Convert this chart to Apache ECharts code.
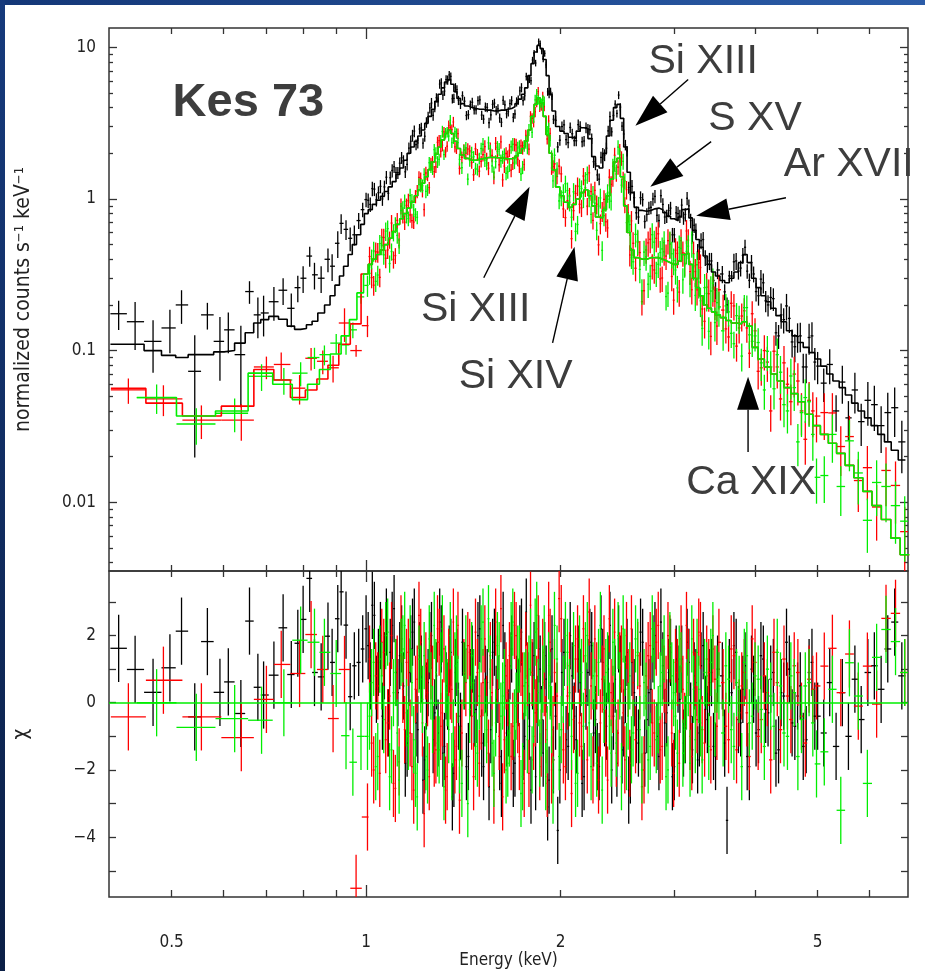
<!DOCTYPE html>
<html><head><meta charset="utf-8">
<script src="https://cdn.jsdelivr.net/npm/echarts@6/dist/echarts.min.js"></script>
<style>
html,body{margin:0;padding:0;background:#fff;}
#wrap{position:relative;width:925px;height:971px;overflow:hidden;background:#fff;}
#chart{position:absolute;left:0;top:0;width:925px;height:971px;}
#bandTop{position:absolute;left:0;top:0;width:925px;height:5px;background:linear-gradient(90deg,#143777,#2b5ca8);z-index:2}
#bandLeft{position:absolute;left:0;top:0;width:5px;height:971px;background:linear-gradient(180deg,#163a7c,#0b1f46);z-index:2}
</style></head>
<body><div id="wrap"><div id="chart"></div><div id="bandTop"></div><div id="bandLeft"></div></div>
<script>
// ---------- axis ranges & tick values ----------
const X_MIN = 0.4, X_MAX = 6.9;
const Y_MIN = 0.00352, Y_MAX = 13.4;
const CHI_MIN = -5.78, CHI_MAX = 3.92;
const xTickValues = [0.5,0.6,0.7,0.8,0.9,2,3,4,5,6];
const xDecadeTicks = [1];
const xLabelValues = [0.5,1,2,5];
const yMajorValues = [0.01,0.1,1,10];
const yMinorValues = [0.004,0.005,0.006,0.007,0.008,0.009,0.02,0.03,0.04,0.05,0.06,0.07,0.08,0.09,
  0.2,0.3,0.4,0.5,0.6,0.7,0.8,0.9,2,3,4,5,6,7,8,9];
const chiTickValues = [-5,-4,-3,-2,-1,0,1,2,3];
const chiLabelValues = [-4,-2,0,2];

// ---------- black spectrum (pn) ----------
const blackLowE = [0.414,0.439,0.468,0.497,0.518,0.543,0.568,0.594,0.612,0.640,0.660,0.680,0.694,0.720,0.744,0.766,0.784,0.799,0.818,0.832,0.852,0.873,0.886,0.904,0.915,0.931,0.945,0.959,0.974,0.988];
const blackLowRate = [0.175,0.155,0.115,0.141,0.20,0.073,0.172,0.115,0.137,0.094,0.245,0.172,0.177,0.21,0.25,0.19,0.26,0.30,0.42,0.316,0.30,0.40,0.36,0.51,0.69,0.63,0.55,0.58,0.72,0.85];
const blackLowErr = [0.22,0.35,0.38,0.32,0.25,0.73,0.2,0.45,0.3,0.55,0.17,0.3,0.3,0.25,0.2,0.25,0.2,0.2,0.15,0.2,0.2,0.18,0.2,0.2,0.15,0.15,0.18,0.15,0.12,0.11];
const blackLowModel = [0.11,0.11,0.10,0.093,0.09,0.094,0.094,0.098,0.10,0.112,0.131,0.152,0.16,0.168,0.161,0.145,0.138,0.14,0.148,0.156,0.177,0.2,0.23,0.27,0.31,0.36,0.43,0.5,0.58,0.68];
const blackLowChi = [1.62,0.99,0.31,1.04,2.13,-0.42,1.82,0.31,0.62,-0.32,2.43,0.46,0.23,0.82,2.23,0.84,1.77,2.48,3.7,0.9,0.77,1.98,1.2,2.5,3.3,2.31,0.18,1.1,1.2,1.6];

// dense channel grid 1.0-3.5 keV (pn), and the channels lying between them
const denseE = [1.00,1.015,1.03,1.045,1.06,1.075,1.09,1.105,1.12,1.135,
 1.15,1.165,1.18,1.195,1.21,1.225,1.24,1.255,1.27,1.285,
 1.30,1.315,1.33,1.345,1.36,1.375,1.39,1.41,1.43,1.45,
 1.47,1.49,1.51,1.53,1.55,1.57,1.59,1.61,1.63,1.65,
 1.67,1.69,1.71,1.73,1.75,1.77,1.79,1.81,1.83,1.85,
 1.87,1.89,1.91,1.93,1.95,1.98,2.01,2.04,2.07,2.10,
 2.13,2.16,2.19,2.22,2.25,2.28,2.31,2.34,2.37,2.40,
 2.43,2.46,2.49,2.52,2.55,2.58,2.62,2.66,2.70,2.74,
 2.78,2.82,2.86,2.90,2.94,2.98,3.02,3.06,3.10,3.14,
 3.18,3.22,3.26,3.30,3.35,3.40,3.45,3.50];
const midE = [1.0075,1.0225,1.0375,1.0525,1.0675,1.0825,1.0975,1.1125,1.1275,
 1.1425,1.1575,1.1725,1.1875,1.2025,1.2175,1.2325,1.2475,1.2625,1.2775,
 1.2925,1.3075,1.3225,1.3375,1.3525,1.3675,1.3825,1.40,1.42,1.44,
 1.46,1.48,1.50,1.52,1.54,1.56,1.58,1.60,1.62,1.64,
 1.66,1.68,1.70,1.72,1.74,1.76,1.78,1.80,1.82,1.84,
 1.86,1.88,1.90,1.92,1.94,1.965,1.995,2.025,2.055,2.085,
 2.115,2.145,2.175,2.205,2.235,2.265,2.295,2.325,2.355,2.385,
 2.415,2.445,2.475,2.505,2.535,2.565,2.60,2.64,2.68,2.72,
 2.76,2.80,2.84,2.88,2.92,2.96,3.00,3.04,3.08,3.12,
 3.16,3.20,3.24,3.28,3.325,3.375,3.425,3.475];

const blackDenseRate = [0.99,0.92,1.16,1.10,1.00,1.39,1.38,1.63,1.49,1.87,
 1.51,2.16,2.62,2.28,2.89,2.33,3.20,3.98,3.56,4.65,
 5.72,4.83,6.11,6.58,4.58,5.42,4.47,4.79,3.55,4.17,
 3.87,4.45,3.57,4.04,3.18,4.20,3.83,3.42,4.47,3.65,
 4.25,3.45,4.37,5.16,4.45,6.42,6.18,8.24,7.87,10.9,
 9.46,9.11,5.09,5.11,3.35,2.20,3.00,2.46,2.96,2.42,
 3.09,2.38,2.95,2.86,1.76,1.44,1.88,1.95,2.81,2.77,
 4.22,4.84,3.02,2.27,1.19,1.21,0.81,1.02,0.71,0.87,
 1.00,0.78,1.05,0.76,0.84,0.58,0.81,0.77,0.75,1.01,
 0.72,0.67,0.45,0.53,0.41,0.39,0.29,0.34];
const blackMidRate = [0.98,1.17,0.99,1.21,1.20,1.09,1.54,1.49,1.72,
 1.78,1.69,2.40,2.80,2.34,2.94,2.59,3.48,4.29,4.05,
 4.36,5.83,5.14,6.08,6.43,4.61,5.26,4.21,4.41,3.60,
 4.34,3.87,4.50,3.36,4.01,3.58,4.28,3.93,3.20,4.17,
 3.76,4.45,3.63,4.49,5.42,4.79,6.13,6.03,9.15,9.70,
 10.55,8.37,7.66,4.91,4.77,3.30,2.44,3.08,2.35,2.69,
 2.42,3.01,2.41,2.89,2.50,1.70,1.35,1.99,2.16,3.49,
 3.55,3.66,4.03,2.68,2.07,1.07,1.02,0.76,0.99,0.79,
 0.88,1.04,0.72,0.92,0.77,0.87,0.58,0.80,0.91,0.79,
 0.90,0.58,0.62,0.45,0.54,0.37,0.39,0.25];
const blackDenseModel = [0.80,0.85,0.92,0.98,1.04,1.12,1.20,1.30,1.45,1.60,
 1.80,2.00,2.20,2.40,2.60,2.85,3.15,3.50,3.90,4.40,
 4.90,5.40,5.90,6.10,5.70,5.10,4.60,4.25,4.10,4.00,
 3.95,3.90,3.90,3.85,3.85,3.80,3.80,3.85,3.85,3.90,
 3.95,4.05,4.25,4.55,4.90,5.40,6.50,7.80,9.30,10.3,
 9.80,8.30,6.50,4.90,3.80,3.00,2.80,2.70,2.55,2.50,
 2.80,2.95,2.90,2.50,1.90,1.65,1.60,2.00,2.60,3.30,
 4.00,4.20,3.40,2.20,1.50,1.10,0.88,0.84,0.83,0.84,
 0.86,0.87,0.85,0.81,0.77,0.74,0.72,0.76,0.85,0.86,
 0.75,0.62,0.54,0.48,0.42,0.37,0.33,0.31];
const blackDenseErr = [0.11,0.11,0.10,0.10,0.10,0.10,0.10,0.09,0.09,0.09,
 0.09,0.09,0.09,0.08,0.08,0.08,0.08,0.08,0.08,0.07,
 0.07,0.07,0.07,0.06,0.07,0.07,0.07,0.07,0.07,0.07,
 0.07,0.07,0.07,0.07,0.08,0.07,0.07,0.07,0.07,0.07,
 0.07,0.07,0.07,0.07,0.07,0.06,0.06,0.05,0.05,0.05,
 0.05,0.05,0.06,0.06,0.07,0.08,0.08,0.08,0.08,0.08,
 0.08,0.08,0.08,0.08,0.09,0.09,0.09,0.09,0.08,0.07,
 0.06,0.06,0.07,0.08,0.09,0.10,0.10,0.10,0.10,0.10,
 0.10,0.10,0.10,0.10,0.10,0.11,0.11,0.10,0.10,0.10,
 0.11,0.11,0.12,0.12,0.12,0.13,0.13,0.13];
const blackDenseChi = [2.2,0.8,2.6,1.2,-0.4,2.4,1.5,2.8,0.3,1.9,
 -1.8,0.9,2.1,-0.6,1.4,-2.3,0.2,1.7,-1.1,0.8,
 2.4,-1.5,0.5,1.3,-2.8,0.9,-0.4,1.8,-1.9,0.6,
 -0.3,2.0,-1.2,0.7,-2.5,1.5,0.1,-1.6,2.3,-0.9,
 1.1,-2.1,0.4,1.9,-1.3,2.7,-0.7,0.8,-2.2,1.6,
 -0.5,1.4,-3.1,0.6,-1.7,-3.8,0.9,-1.1,2.0,-0.4,
 1.3,-2.4,0.2,1.8,-0.9,-1.6,2.2,-0.3,1.0,-2.0,
 0.7,1.9,-1.4,0.4,-2.6,1.2,-0.8,2.1,-1.5,0.3,
 1.6,-1.0,2.4,-0.6,0.9,-2.2,1.3,0.1,-1.2,1.8,
 -0.4,0.8,-1.7,1.1,-0.2,0.6,-1.3,1.0];
const blackMidChi = [1.7,2.9,0.4,2.0,1.1,-0.6,2.3,0.9,1.4,
 0.5,-1.2,1.6,2.4,-0.8,1.0,-1.7,0.6,2.0,-0.3,
 -0.9,1.9,-1.3,0.2,1.5,-2.1,1.2,-0.7,0.8,-1.6,
 1.3,-0.2,2.2,-1.9,0.6,-0.8,1.8,0.4,-2.4,1.1,
 -0.6,1.6,-1.8,0.3,2.1,-1.0,0.5,-2.6,1.4,-0.2,
 1.0,-1.5,0.7,-2.3,1.6,-0.4,-2.0,1.5,-1.3,0.8,
 -1.1,0.6,-2.2,0.9,1.7,-0.5,-1.9,1.2,-0.7,2.3,
 -0.4,-1.8,1.0,-0.6,1.5,-2.0,0.3,-1.2,1.8,-0.5,
 0.4,2.0,-1.6,1.1,-0.3,1.5,-1.9,0.7,1.3,-0.8,
 1.2,-1.4,0.6,-0.9,1.7,-0.5,0.9,-1.6];

const blackHighE = [3.56,3.62,3.68,3.74,3.80,3.86,3.92,3.98,4.05,4.12,4.19,4.27,4.35,4.43,4.52,4.61,4.70,4.80,4.90,5.00,5.11,5.22,5.34,5.46,5.58,5.71,5.84,5.98,6.12,6.27,6.42,6.58,6.75];
const blackHighRate = [0.32,0.20,0.31,0.39,0.35,0.48,0.29,0.32,0.23,0.28,0.20,0.22,0.125,0.16,0.163,0.106,0.125,0.078,0.125,0.079,0.061,0.081,0.040,0.062,0.036,0.055,0.034,0.047,0.044,0.032,0.039,0.042,0.025];
const blackHighErr = [0.12,0.08,0.13,0.12,0.12,0.11,0.12,0.14,0.15,0.16,0.17,0.18,0.19,0.2,0.21,0.22,0.22,0.23,0.24,0.25,0.26,0.27,0.28,0.29,0.3,0.31,0.32,0.33,0.34,0.35,0.36,0.38,0.4];
const blackHighModel = [0.29,0.28,0.30,0.33,0.38,0.43,0.38,0.30,0.26,0.23,0.21,0.19,0.17,0.155,0.135,0.125,0.113,0.105,0.097,0.088,0.079,0.070,0.063,0.057,0.051,0.045,0.040,0.036,0.032,0.028,0.025,0.022,0.019];
const blackHighChi = [0.8,-3.5,0.3,1.5,-0.6,1.1,-1.9,0.4,-0.8,1.3,-0.3,0.9,-1.4,0.2,1.0,-0.7,0.5,-1.1,1.2,-0.4,-0.9,0.6,-1.3,0.3,-1.0,0.7,-0.5,0.9,1.1,0.4,1.6,2.4,0.8];
const blackHighMidE = [3.59,3.65,3.71,3.77,3.83,3.89,3.95,4.015,4.085,4.155,4.23,4.31,4.39,4.475,4.565,4.655,4.75,4.85,4.95];
const blackHighMidRate = [0.244,0.311,0.385,0.334,0.424,0.334,0.381,0.245,0.296,0.213,0.224,0.131,0.172,0.197,0.114,0.124,0.078,0.122,0.084];
const blackHighMidChi = [-1.2,0.9,1.7,-0.5,0.4,-1.6,1.0,-0.9,1.4,-0.2,0.7,-1.5,0.3,1.8,-0.6,0.2,-1.3,0.9,-0.4];

// ---------- MOS spectra (red, green) ----------
const redLowE = [0.4286,0.4856,0.556,0.641,0.701,0.739,0.789,0.822,0.857,0.889,0.926,0.965];
const redLowRate = [0.055,0.048,0.0348,0.0348,0.078,0.081,0.0565,0.089,0.085,0.077,0.152,0.10];
const redLowErr = [0.19,0.23,0.25,0.27,0.17,0.2,0.22,0.17,0.18,0.2,0.25,0.09];
const redLowModel = [0.0563,0.045,0.037,0.043,0.075,0.064,0.049,0.055,0.065,0.08,0.11,0.15];
const redLowChi = [-0.42,0.67,-0.42,-1.04,0.1,1.14,0.87,2.03,0.99,-0.47,0.99,-5.52];

const greenLowE = [0.474,0.546,0.626,0.689,0.746,0.792,0.832,0.862,0.899,0.931,0.954,0.982];
const greenLowRate = [0.049,0.0328,0.0386,0.0677,0.064,0.071,0.09,0.094,0.112,0.109,0.137,0.226];
const greenLowErr = [0.22,0.27,0.25,0.2,0.2,0.18,0.16,0.15,0.15,0.14,0.12,0.1];
const greenLowModel = [0.049,0.037,0.040,0.071,0.06,0.0475,0.06,0.075,0.095,0.125,0.16,0.24];
const greenLowChi = [0,-0.73,-0.47,-0.52,0,1.86,1.8,1.5,0.87,-0.98,-1.77,-1.0];

// MOS channel energies in the dense region
const mosDenseE = [1.005,1.02,1.035,1.05,1.065,1.08,1.095,1.11,1.125,1.14,
 1.155,1.17,1.185,1.20,1.215,1.23,1.245,1.26,1.275,1.29,
 1.305,1.32,1.335,1.35,1.365,1.38,1.395,1.417,1.437,1.457,
 1.477,1.497,1.517,1.537,1.557,1.577,1.597,1.617,1.637,1.657,
 1.677,1.697,1.717,1.737,1.757,1.777,1.797,1.817,1.837,1.857,
 1.877,1.897,1.917,1.937,1.957,1.99,2.02,2.05,2.08,2.11,
 2.14,2.17,2.20,2.23,2.26,2.29,2.32,2.35,2.38,2.41,
 2.44,2.47,2.50,2.53,2.56,2.59,2.633,2.673,2.713,2.753,
 2.793,2.833,2.873,2.913,2.953,2.993,3.033,3.073,3.113,3.153,
 3.193,3.233,3.273,3.313,3.367,3.417,3.467,3.517];
const mosMidE = [1.0125,1.0275,1.0425,1.0575,1.0725,1.0875,1.1025,1.1175,1.1325,
 1.1475,1.1625,1.1775,1.1925,1.2075,1.2225,1.2375,1.2525,1.2675,1.2825,
 1.2975,1.3125,1.3275,1.3425,1.3575,1.3725,1.3875,1.407,1.427,1.447,
 1.467,1.487,1.507,1.527,1.547,1.567,1.587,1.607,1.627,1.647,
 1.667,1.687,1.707,1.727,1.747,1.767,1.787,1.807,1.827,1.847,
 1.867,1.887,1.907,1.927,1.947,1.975,2.005,2.035,2.065,2.095,
 2.125,2.155,2.185,2.215,2.245,2.275,2.305,2.335,2.365,2.395,
 2.425,2.455,2.485,2.515,2.545,2.575,2.613,2.653,2.693,2.733,
 2.773,2.813,2.853,2.893,2.933,2.973,3.013,3.053,3.093,3.133,
 3.173,3.213,3.253,3.293,3.342,3.392,3.442,3.492];

const mosDenseModel = [0.32,0.37,0.40,0.43,0.46,0.50,0.55,0.61,0.68,0.74,
 0.80,0.87,0.95,1.05,1.15,1.27,1.40,1.56,1.75,1.97,
 2.2,2.45,2.7,2.85,2.7,2.4,2.15,1.95,1.85,1.8,
 1.8,1.82,1.85,1.87,1.88,1.88,1.87,1.86,1.85,1.84,
 1.84,1.86,1.92,2.0,2.15,2.4,2.85,3.5,4.2,4.65,
 4.3,3.5,2.65,2.0,1.55,1.2,1.05,0.95,0.88,0.92,
 1.0,1.1,1.15,1.05,0.9,0.76,0.75,0.85,1.05,1.35,
 1.75,1.85,1.4,0.9,0.6,0.46,0.41,0.40,0.40,0.41,
 0.41,0.41,0.40,0.39,0.38,0.37,0.37,0.39,0.43,0.44,
 0.37,0.30,0.26,0.23,0.20,0.19,0.18,0.172];
const mosDenseErr = [0.16,0.15,0.15,0.14,0.14,0.13,0.13,0.12,0.12,0.11,
 0.11,0.11,0.10,0.10,0.10,0.10,0.09,0.09,0.09,0.09,
 0.09,0.08,0.08,0.08,0.08,0.08,0.09,0.09,0.09,0.09,
 0.09,0.09,0.10,0.10,0.10,0.10,0.10,0.10,0.10,0.10,
 0.10,0.10,0.10,0.10,0.09,0.09,0.08,0.08,0.07,0.07,
 0.07,0.08,0.09,0.10,0.11,0.12,0.13,0.13,0.14,0.14,
 0.13,0.13,0.13,0.13,0.14,0.15,0.15,0.14,0.13,0.12,
 0.11,0.11,0.12,0.14,0.16,0.18,0.19,0.19,0.19,0.19,
 0.19,0.19,0.19,0.19,0.2,0.2,0.2,0.19,0.18,0.18,
 0.2,0.21,0.22,0.23,0.24,0.25,0.25,0.26];
const redDenseRate = [0.146,0.303,0.448,0.304,0.557,0.461,0.693,0.423,0.536,0.773,
 0.906,0.784,0.703,1.124,1.357,0.851,1.438,1.714,1.514,2.36,
 2.061,2.764,2.225,2.964,3.218,2.15,1.589,2.108,2.133,1.735,
 2.14,1.525,1.961,1.833,2.143,1.391,2.057,2.381,1.647,1.895,
 1.546,2.288,1.824,2.24,1.686,2.573,3.511,3.22,4.318,4.032,
 4.752,3.276,3.27,1.6,1.703,1.646,0.859,0.975,0.547,1.087,
 0.922,1.415,0.896,1.118,1.139,0.498,0.829,0.707,1.391,1.366,
 1.461,2.074,1.35,1.152,0.427,0.51,0.519,0.21,0.461,0.542,
 0.34,0.589,0.301,0.42,0.502,0.215,0.437,0.531,0.376,0.535,
 0.252,0.332,0.38,0.188,0.262,0.124,0.212,0.252];
const redMidRate = [0.417,0.270,0.446,0.557,0.406,0.539,0.399,0.722,0.897,
 0.702,0.973,0.720,1.04,1.386,1.137,1.482,1.187,1.759,1.626,
 2.423,2.262,2.039,3.041,2.864,2.203,2.694,1.884,2.003,2.071,
 1.444,1.957,1.769,2.213,1.594,1.936,2.325,1.679,1.336,1.993,
 2.098,1.721,2.268,1.646,2.179,2.623,2.129,3.404,3.758,5.106,
 4.099,4.064,2.485,2.702,1.633,1.405,1.463,0.753,1.046,0.837,
 1.215,0.873,1.184,1.486,0.722,0.923,0.687,0.992,0.644,1.247,
 1.941,1.622,1.857,0.915,0.813,0.717,0.349,0.443,0.248,0.513,
 0.363,0.550,0.297,0.448,0.531,0.308,0.459,0.243,0.441,0.615,
 0.332,0.436,0.251,0.353,0.156,0.237,0.259,0.145];
const redDenseChi = [-3.4,-1.2,0.8,-2.1,1.5,-0.6,2.0,-2.55,-1.76,0.4,
 1.2,-0.9,-2.6,0.7,1.8,-3.3,0.3,1.1,-1.5,2.2,
 -0.7,1.6,-2.2,0.5,2.4,-1.3,-2.9,0.9,1.7,-0.4,
 2.1,-1.8,0.6,-0.2,1.4,-2.6,1.0,2.8,-1.1,0.3,
 -1.6,2.3,-0.5,1.2,-2.4,0.8,2.9,-1.0,0.4,-1.9,
 1.5,-0.8,2.6,-2.0,0.9,3.1,-1.4,0.2,-2.7,1.3,
 -0.6,2.2,-1.7,0.5,1.9,-2.3,0.7,-1.2,2.5,0.1,
 -1.5,1.1,-0.3,2.0,-1.8,0.6,1.4,-2.5,0.8,1.7,
 -0.9,2.3,-1.3,0.4,1.6,-2.1,0.9,1.9,-0.7,1.2,
 -1.6,0.5,2.1,-0.8,1.3,-1.4,0.7,1.8];
const redMidChi = [1.3,-2.0,0.5,1.8,-1.1,0.2,-2.4,1.0,2.2,
 -0.8,1.5,-1.9,0.4,2.6,-0.6,1.1,-2.2,0.7,-1.4,
 1.8,-0.3,-2.6,1.2,0.4,-1.7,2.3,-0.9,0.6,1.5,
 -2.2,0.9,-0.4,1.9,-1.5,0.3,2.4,-1.0,-2.8,0.8,
 1.4,-0.7,2.0,-1.6,0.5,1.7,-2.1,0.9,-0.3,2.2,
 -1.2,0.6,-2.4,1.8,-0.8,0.2,2.5,-1.9,1.1,-0.5,
 1.9,-1.3,0.4,2.7,-2.0,0.8,-0.6,1.6,-2.3,0.3,
 2.1,-0.9,1.3,-1.7,0.6,2.2,-1.1,0.5,-2.0,1.4,
 -0.6,1.8,-1.4,0.7,2.0,-0.9,1.2,-1.8,0.4,2.3,
 -1.0,1.5,-0.5,2.0,-1.2,0.9,1.6,-0.7];
const greenDenseRate = [0.269,0.403,0.286,0.508,0.428,0.637,0.45,0.676,0.492,0.87,
 0.774,1.052,0.846,0.756,1.231,1.448,1.148,1.63,2.112,1.757,
 2.418,1.96,2.765,3.306,2.506,2.707,1.821,2.09,1.351,2.027,
 1.589,1.853,2.294,1.72,2.068,1.485,2.188,1.786,1.961,1.509,
 2.208,1.748,2.17,1.46,2.247,2.162,3.26,3.444,4.964,4.162,
 4.511,2.884,2.912,1.9,1.942,0.97,1.105,1.135,0.757,0.611,
 1.208,1.0,1.449,0.791,0.938,0.897,0.458,0.957,0.995,1.642,
 1.519,1.952,1.77,0.698,0.677,0.385,0.527,0.248,0.415,0.309,
 0.519,0.371,0.468,0.227,0.509,0.392,0.259,0.472,0.368,0.488,
 0.511,0.231,0.283,0.14,0.238,0.247,0.153,0.194];
const greenMidRate = [0.323,0.454,0.315,0.495,0.614,0.375,0.603,0.575,0.838,
 0.965,0.743,0.970,0.79,1.243,1.222,1.121,1.733,1.581,2.011,
 1.822,2.785,2.719,2.597,2.353,2.774,2.348,1.607,2.174,1.792,
 1.897,1.566,2.149,1.804,2.344,1.654,1.763,2.126,1.892,1.476,
 1.674,2.294,1.871,2.215,1.619,2.398,2.861,2.743,4.497,4.518,
 4.287,4.419,2.804,2.43,1.314,1.572,1.017,1.26,0.951,1.114,
 0.678,1.173,1.33,1.014,1.076,0.621,1.015,0.776,1.096,0.966,
 1.717,2.196,1.232,1.316,0.708,0.411,0.584,0.343,0.446,0.274,
 0.581,0.324,0.443,0.515,0.239,0.435,0.340,0.479,0.293,0.451,
 0.274,0.362,0.368,0.213,0.260,0.134,0.278,0.207];
const greenDenseChi = [-1.0,0.6,-1.9,1.3,-0.5,2.1,-1.4,0.9,-2.3,1.6,
 -0.3,1.9,-1.1,-2.8,0.7,1.4,-2.0,0.5,2.3,-1.2,
 1.1,-2.5,0.3,2.0,-0.9,1.6,-1.7,0.8,-3.0,1.4,
 -1.3,0.2,2.4,-0.8,1.0,-2.1,1.7,-0.4,0.6,-1.8,
 2.0,-0.6,1.3,-2.7,0.5,-1.1,1.8,-0.2,2.6,-1.5,
 0.7,-2.2,1.1,-0.5,2.3,-1.6,0.4,1.5,-1.0,-2.4,
 1.6,-0.7,2.0,-1.9,0.3,1.2,-2.6,0.9,-0.4,1.8,
 -1.2,0.5,2.2,-1.6,0.8,-0.9,1.5,-2.0,0.2,-1.3,
 1.4,-0.5,0.9,-2.2,1.7,0.3,-1.5,1.1,-0.8,0.6,
 1.9,-1.1,0.4,-1.7,0.8,1.2,-0.6,0.5];
const greenMidChi = [-0.4,1.2,-1.6,0.8,2.0,-2.2,0.3,-0.9,1.5,
 2.3,-1.0,0.6,-2.1,1.3,0.1,-1.6,1.9,-0.5,0.9,
 -1.4,2.2,0.7,-0.8,-1.9,1.1,0.4,-2.4,1.6,-0.2,
 0.6,-1.5,1.9,-0.3,2.5,-1.2,-0.6,1.4,0.2,-2.0,
 -0.9,2.4,-0.1,1.3,-2.2,0.6,1.0,-1.7,2.1,0.3,
 -0.6,1.9,-1.1,0.5,-2.6,1.3,-0.8,2.0,0.3,1.7,
 -2.1,0.9,1.4,-0.6,0.8,-1.8,2.3,-0.2,1.1,-1.5,
 0.9,2.0,-2.2,1.2,-0.4,-1.4,1.9,-0.8,0.6,-1.7,
 2.2,-1.1,0.5,1.6,-2.0,0.8,-0.4,1.3,-1.5,0.2,
 -1.8,0.4,1.5,-0.6,0.9,-1.3,2.0,0.7];

const mosHighE = [3.57,3.64,3.71,3.78,3.85,3.92,4.00,4.09,4.18,4.28,4.38,4.49,4.60,4.72,4.85,4.98,5.12,5.27,5.43,5.60,5.78,5.97,6.17,6.38,6.60,6.82];
const mosHighModel = [0.165,0.158,0.152,0.15,0.155,0.145,0.105,0.088,0.078,0.07,0.063,0.057,0.052,0.046,0.038,0.032,0.028,0.0245,0.021,0.0175,0.0145,0.0118,0.0095,0.0077,0.0058,0.0045];
const mosHighErr = [0.2,0.2,0.21,0.21,0.2,0.21,0.24,0.26,0.27,0.28,0.29,0.3,0.31,0.32,0.33,0.34,0.35,0.36,0.37,0.38,0.39,0.4,0.42,0.44,0.46,0.48];
const redHighRate = [0.185,0.123,0.197,0.141,0.183,0.096,0.135,0.077,0.084,0.099,0.048,0.060,0.070,0.040,0.047,0.037,0.039,0.0388,0.0233,0.0271,0.0139,0.0169,0.0093,0.0162,0.0129,0.0064];
const redHighChi = [0.6,-1.1,1.4,-0.3,0.9,-1.6,1.2,-0.5,0.3,1.5,-0.8,0.2,1.1,-0.4,0.7,0.5,1.09,1.62,0.3,1.45,-0.1,1.09,-0.04,2.51,2.66,0.9];
const greenHighRate = [0.135,0.180,0.111,0.163,0.192,0.127,0.125,0.083,0.099,0.056,0.072,0.040,0.057,0.039,0.046,0.0146,0.0150,0.028,0.0127,0.0254,0.0156,0.0076,0.0135,0.0127,0.0095,0.0075];
const greenHighChi = [-0.9,0.7,-1.3,0.4,1.2,-0.6,0.8,-0.2,1.0,-0.7,0.5,-1.0,0.3,-0.5,0.6,-1.82,-1.46,0.4,-3.2,1.19,0.2,-2.4,1.35,2.18,1.82,0.9];
const mosHighMidE = [3.605,3.675,3.745,3.815,3.885,3.96,4.045,4.135,4.23,4.33,4.435,4.545,4.66,4.785,4.915];
const redHighMidRate = [0.139,0.205,0.107,0.169,0.141,0.175,0.073,0.100,0.040,0.078,0.083,0.046,0.063,0.026,0.040];
const redHighMidChi = [-0.7,1.6,-1.4,0.5,-0.3,1.9,-1.0,0.8,-1.7,0.6,1.3,-0.5,0.9,-1.2,0.4];
const greenHighMidRate = [0.197,0.130,0.170,0.092,0.192,0.115,0.113,0.055,0.078,0.094,0.044,0.068,0.025,0.049,0.028];
const greenHighMidChi = [1.1,-0.8,0.6,-1.9,1.4,-0.4,0.7,-1.3,0.2,1.5,-0.9,0.8,-1.6,0.5,-0.6];

// ---------- annotations (data coordinates) ----------
const titleText = 'Kes 73';
const titleE = 0.6574, titleF = 4.315;
const annotLabels = ['Si XIII','S XV','Ar XVII','Si XIII','Si XIV','Ca XIX'];
const annotTextE = [3.325,4.000,5.586,1.478,1.704,3.944];
const annotTextF = [8.05,3.384,1.681,0.1856,0.0671,0.01339];
const arrowTailE = [3.152,3.421,4.466,1.521,1.944,3.902];
const arrowTailF = [6.122,2.386,1.018,0.302,0.1124,0.02146];
const arrowTipE = [2.611,2.754,3.243,1.791,2.102,3.902];
const arrowTipF = [3.043,1.204,0.7747,1.204,0.4836,0.0671];

// ---------- build ----------
const BLACK = '#000000', RED = '#ff0000', GREEN = '#00ee00';
const COND = "'DejaVu Sans Condensed','Liberation Sans',sans-serif";
const SANS = "'Liberation Sans',Arial,sans-serif";
const L = Math.log10;

function interleave(a, b) {
  const out = [];
  for (let i = 0; i < a.length; i++) { out.push(a[i]); if (i < b.length) out.push(b[i]); }
  return out;
}
function edgesOf(E) {
  const n = E.length, lo = [], hi = [];
  for (let i = 0; i < n; i++) {
    lo.push(i > 0 ? Math.sqrt(E[i-1]*E[i]) : E[0]*E[0]/Math.sqrt(E[0]*E[1]));
    hi.push(i < n-1 ? Math.sqrt(E[i]*E[i+1]) : E[n-1]*E[n-1]/Math.sqrt(E[n-2]*E[n-1]));
  }
  return {lo, hi};
}
function makeSet(E, rate, err, chi, mE, model) {
  const d = edgesOf(E), m = edgesOf(mE);
  const spec = E.map((e,i) => [e, rate[i], d.lo[i], d.hi[i], err[i]*rate[i]]);
  const res = E.map((e,i) => [e, chi[i], d.lo[i], d.hi[i]]);
  const mod = [];
  mE.forEach((e,i) => { mod.push([m.lo[i], model[i]]); mod.push([m.hi[i], model[i]]); });
  return {spec, mod, res};
}
const blackSet = makeSet(
  blackLowE.concat(interleave(denseE, midE), interleave(blackHighE, blackHighMidE)),
  blackLowRate.concat(interleave(blackDenseRate, blackMidRate), interleave(blackHighRate, blackHighMidRate)),
  blackLowErr.concat(interleave(blackDenseErr, blackDenseErr), interleave(blackHighErr, blackHighErr.slice(0, blackHighMidE.length))),
  blackLowChi.concat(interleave(blackDenseChi, blackMidChi), interleave(blackHighChi, blackHighMidChi)),
  blackLowE.concat(denseE, blackHighE),
  blackLowModel.concat(blackDenseModel, blackHighModel));
const redSet = makeSet(
  redLowE.concat(interleave(mosDenseE, mosMidE), interleave(mosHighE, mosHighMidE)),
  redLowRate.concat(interleave(redDenseRate, redMidRate), interleave(redHighRate, redHighMidRate)),
  redLowErr.concat(interleave(mosDenseErr, mosDenseErr), interleave(mosHighErr, mosHighErr.slice(0, mosHighMidE.length))),
  redLowChi.concat(interleave(redDenseChi, redMidChi), interleave(redHighChi, redHighMidChi)),
  redLowE.concat(denseE, mosHighE),
  redLowModel.concat(mosDenseModel, mosHighModel));
const greenSet = makeSet(
  greenLowE.concat(interleave(mosDenseE, mosMidE), interleave(mosHighE, mosHighMidE)),
  greenLowRate.concat(interleave(greenDenseRate, greenMidRate), interleave(greenHighRate, greenHighMidRate)),
  greenLowErr.concat(interleave(mosDenseErr, mosDenseErr), interleave(mosHighErr, mosHighErr.slice(0, mosHighMidE.length))),
  greenLowChi.concat(interleave(greenDenseChi, greenMidChi), interleave(greenHighChi, greenHighMidChi)),
  greenLowE.concat(denseE, mosHighE),
  greenLowModel.concat(mosDenseModel, mosHighModel));

function crossRenderer(color, isResidual) {
  return function (params, api) {
    const cs = params.coordSys;
    const top = cs.y, bottom = cs.y + cs.height, left = cs.x, right = cs.x + cs.width;
    const e = api.value(0), v = api.value(1), lo = api.value(2), hi = api.value(3);
    const s = isResidual ? 1 : api.value(4);
    const c = api.coord([e, v]);
    const a = api.coord([lo, v]);
    const b = api.coord([hi, v]);
    let yT = api.coord([e, v + s])[1];
    let yB = (isResidual || v - s > 0) ? api.coord([e, v - s])[1] : bottom;
    yT = Math.max(top, Math.min(bottom, yT));
    yB = Math.max(top, Math.min(bottom, yB));
    const st = {stroke: color, lineWidth: 1.3};
    const children = [];
    if (c[1] >= top && c[1] <= bottom) {
      children.push({type: 'line', shape: {x1: Math.max(left, a[0]), y1: c[1], x2: Math.min(right, b[0]), y2: c[1]}, style: st});
    }
    children.push({type: 'line', shape: {x1: c[0], y1: yT, x2: c[0], y2: yB}, style: st});
    return {type: 'group', children};
  };
}
function specSeries(set, color) {
  return [{
    type: 'custom', xAxisIndex: 0, yAxisIndex: 0, data: set.spec,
    encode: {x: 0, y: 1}, renderItem: crossRenderer(color, false), silent: true, animation: false
  }, {
    type: 'line', xAxisIndex: 0, yAxisIndex: 0, data: set.mod, symbol: 'none', showSymbol: false,
    lineStyle: {color, width: 1.6}, silent: true, animation: false, clip: true
  }];
}
function resSeries(set, color) {
  return {
    type: 'custom', xAxisIndex: 1, yAxisIndex: 5, data: set.res,
    encode: {x: 0, y: 1}, renderItem: crossRenderer(color, true), silent: true, animation: false
  };
}

const fmtLog = v => String(parseFloat(Math.pow(10, v).toPrecision(3)));
const tickStyle = {color: '#333', width: 1.3};

function xTick(grid, pos, vals, len, withLabels) {
  const ax = {
    gridIndex: grid, type: 'value', position: pos, min: L(X_MIN), max: L(X_MAX),
    axisLine: {show: false, onZero: false},
    axisTick: {show: true, inside: true, length: len, customValues: vals.map(L), lineStyle: tickStyle},
    axisLabel: {show: false}, splitLine: {show: false}
  };
  if (withLabels) {
    ax.axisLabel = {show: true, customValues: xLabelValues.map(L), formatter: fmtLog, margin: 37,
      fontFamily: COND, fontSize: 17, color: '#222'};
    ax.name = 'Energy (keV)';
    ax.nameLocation = 'middle';
    ax.nameGap = 55;
    ax.nameTextStyle = {fontFamily: COND, fontSize: 17, color: '#222'};
  }
  return ax;
}
function yTick(pos, vals, len, withLabels) {
  const ax = {
    gridIndex: 0, type: 'value', position: pos, min: L(Y_MIN), max: L(Y_MAX),
    axisLine: {show: false, onZero: false},
    axisTick: {show: true, inside: true, length: len, customValues: vals.map(L), lineStyle: tickStyle},
    axisLabel: {show: false}, splitLine: {show: false}
  };
  if (withLabels) {
    ax.axisLabel = {show: true, customValues: yMajorValues.map(L), formatter: fmtLog, margin: 13,
      fontFamily: COND, fontSize: 17, color: '#222'};
    ax.name = '{a|normalized counts s}{s|\u22121}{a| keV}{s|\u22121}';
    ax.nameLocation = 'middle';
    ax.nameRotate = 90;
    ax.nameGap = 75;
    ax.nameTextStyle = {fontFamily: COND, fontSize: 21, color: '#222',
      rich: {a: {fontFamily: COND, fontSize: 21, color: '#222'},
             s: {fontFamily: COND, fontSize: 13, color: '#222', verticalAlign: 'top'}}};
  }
  return ax;
}

const option = {
  animation: false,
  backgroundColor: '#ffffff',
  grid: [
    {left: 109, top: 28, width: 799, height: 543, show: true, borderColor: '#333', borderWidth: 1.5, backgroundColor: 'transparent', containLabel: false, outerBoundsMode: 'none'},
    {left: 109, top: 571, width: 799, height: 326, show: true, borderColor: '#333', borderWidth: 1.5, backgroundColor: 'transparent', containLabel: false, outerBoundsMode: 'none'}
  ],
  xAxis: [
    {gridIndex: 0, type: 'log', logBase: 10, min: X_MIN, max: X_MAX, show: false},
    {gridIndex: 1, type: 'log', logBase: 10, min: X_MIN, max: X_MAX, show: false},
    xTick(0, 'bottom', xTickValues, 6, false),
    xTick(0, 'bottom', xDecadeTicks, 11, false),
    xTick(0, 'top', xTickValues, 6, false),
    xTick(0, 'top', xDecadeTicks, 11, false),
    xTick(1, 'bottom', xTickValues, 7, true),
    xTick(1, 'bottom', xDecadeTicks, 12, false),
    xTick(1, 'top', xTickValues, 6, false),
    xTick(1, 'top', xDecadeTicks, 11, false)
  ],
  yAxis: [
    {gridIndex: 0, type: 'log', logBase: 10, min: Y_MIN, max: Y_MAX, show: false},
    yTick('left', yMajorValues, 8, true),
    yTick('left', yMinorValues, 4, false),
    yTick('right', yMajorValues, 8, false),
    yTick('right', yMinorValues, 4, false),
    {gridIndex: 1, type: 'value', position: 'left', min: CHI_MIN, max: CHI_MAX,
      axisLine: {show: false, onZero: false},
      axisTick: {show: true, inside: true, length: 7, customValues: chiTickValues, lineStyle: tickStyle},
      axisLabel: {show: true, customValues: chiLabelValues, margin: 13, fontFamily: COND, fontSize: 17, color: '#222',
        formatter: v => (v < 0 ? '\u2212' + (-v) : String(v))},
      splitLine: {show: false},
      name: '\u03c7', nameLocation: 'middle', nameRotate: 90, nameGap: 77,
      nameTextStyle: {fontFamily: COND, fontSize: 21, color: '#222'}},
    {gridIndex: 1, type: 'value', position: 'right', min: CHI_MIN, max: CHI_MAX,
      axisLine: {show: false, onZero: false},
      axisTick: {show: true, inside: true, length: 7, customValues: chiTickValues, lineStyle: tickStyle},
      axisLabel: {show: false}, splitLine: {show: false}}
  ],
  series: [
    ...specSeries(blackSet, BLACK),
    ...specSeries(redSet, RED),
    ...specSeries(greenSet, GREEN),
    resSeries(blackSet, BLACK),
    resSeries(redSet, RED),
    resSeries(greenSet, GREEN),
    {type: 'line', xAxisIndex: 1, yAxisIndex: 5, data: [], silent: true, z: 5,
      markLine: {silent: true, symbol: ['none','none'], label: {show: false}, animation: false,
        lineStyle: {color: GREEN, width: 1.6, type: 'solid'}, data: [{yAxis: 0}]}},
    {type: 'custom', xAxisIndex: 0, yAxisIndex: 0, z: 10, silent: true, animation: false,
      data: annotLabels.map((t,i) => [arrowTailE[i], arrowTailF[i], arrowTipE[i], arrowTipF[i], annotTextE[i], annotTextF[i]]),
      encode: {x: 0, y: 1},
      renderItem: function (params, api) {
        const i = params.dataIndex;
        const t = api.coord([api.value(0), api.value(1)]);
        const p = api.coord([api.value(2), api.value(3)]);
        const q = api.coord([api.value(4), api.value(5)]);
        const dx = p[0]-t[0], dy = p[1]-t[1], d = Math.hypot(dx, dy);
        const ux = dx/d, uy = dy/d, HL = 33, HW = 11;
        const bx = p[0]-ux*HL, by = p[1]-uy*HL;
        return {type: 'group', children: [
          {type: 'line', shape: {x1: t[0], y1: t[1], x2: bx, y2: by}, style: {stroke: '#000', lineWidth: 1.4}},
          {type: 'polygon', shape: {points: [[p[0], p[1]], [bx - uy*HW, by + ux*HW], [bx + uy*HW, by - ux*HW]]}, style: {fill: '#000'}},
          {type: 'text', x: q[0], y: q[1], style: {text: annotLabels[i], fill: '#3d3d3d', fontSize: 41, fontFamily: SANS,
            align: 'center', verticalAlign: 'middle'}}
        ]};
      }},
    {type: 'custom', xAxisIndex: 0, yAxisIndex: 0, z: 10, silent: true, animation: false,
      data: [[titleE, titleF]], encode: {x: 0, y: 1},
      renderItem: function (params, api) {
        const q = api.coord([api.value(0), api.value(1)]);
        return {type: 'text', x: q[0], y: q[1], style: {text: titleText, fill: '#3d3d3d', fontSize: 47, fontWeight: 'bold',
          fontFamily: SANS, align: 'center', verticalAlign: 'middle'}};
      }}
  ]
};

const chart = echarts.init(document.getElementById('chart'), null, {renderer: 'canvas'});
chart.setOption(option);
</script></body></html>
